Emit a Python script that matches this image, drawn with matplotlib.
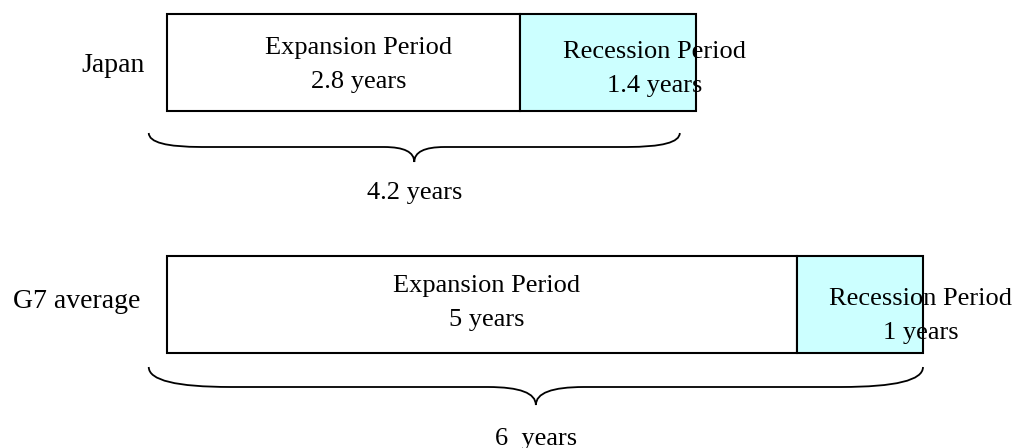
import matplotlib.pyplot as plt
from matplotlib.path import Path
from matplotlib.patches import PathPatch

# data
regions = ['Japan', 'G7 average']
expansion = [2.8, 5]
recession = [1.4, 1]
exp_labels = ['Expansion Period\n2.8 years', 'Expansion Period\n5 years']
rec_labels = ['Recession Period\n1.4 years', 'Recession Period\n1 years']
total_labels = ['4.2 years', '6  years']

plt.rcParams['font.family'] = ['Liberation Serif', 'DejaVu Serif']

fig = plt.figure(figsize=(10.15, 4.48), dpi=100)
ax = fig.add_axes([0, 0, 1, 1])
px = 126.0  # pixels per year
ax.set_xlim(-167 / px, (1015 - 167) / px)
ax.set_ylim(448, 0)
ax.axis('off')

# layout (pixels from top / years)
bar_top = [14, 256]
bar_h = 97
label_x = [145, 140]
label_base = [72, 308]
exp_dx = [0.12, 0.04]
exp_base = [54, 292]
rec_dx = [0.37, 0.48]
rec_base = [58, 305]
line_gap = 34
brace_top = [133, 367]
brace_mid = [14, 20]
brace_tip = [29, 38]
brace_trim = [0.13, 0.0]
brace_q = [(0.42, 0.24), (0.65, 0.38)]
total_base = [199, 445]
fs = 19


def brace(x0, x1, ytop, hm, ht, q_end, q_mid):
    xm = (x0 + x1) / 2
    ym = ytop + hm
    verts = [(x0, ytop), (x0, ym), (x0 + q_end, ym),
             (xm - q_mid, ym), (xm, ym), (xm, ytop + ht),
             (xm, ym), (xm + q_mid, ym),
             (x1 - q_end, ym), (x1, ym), (x1, ytop)]
    codes = [Path.MOVETO, Path.CURVE3, Path.CURVE3,
             Path.LINETO, Path.CURVE3, Path.CURVE3,
             Path.CURVE3, Path.CURVE3,
             Path.LINETO, Path.CURVE3, Path.CURVE3]
    ax.add_patch(PathPatch(Path(verts, codes), fc='none', ec='black', lw=1.3))
    return xm


def two_lines(x, y0, s):
    for k, line in enumerate(s.split('\n')):
        ax.text(x, y0 + k * line_gap, line, ha='center', va='baseline', fontsize=fs)


for i, name in enumerate(regions):
    y = bar_top[i] + bar_h / 2
    ax.barh(y, expansion[i], height=bar_h, left=0, color='white',
            edgecolor='black', linewidth=1.5)
    ax.barh(y, recession[i], height=bar_h, left=expansion[i], color='#CCFFFF',
            edgecolor='black', linewidth=1.5)
    ax.text((label_x[i] - 167) / px, label_base[i], name, ha='right', va='baseline',
            fontsize=20)
    two_lines(expansion[i] / 2 + exp_dx[i], exp_base[i], exp_labels[i])
    two_lines(expansion[i] + recession[i] / 2 + rec_dx[i], rec_base[i], rec_labels[i])
    total = expansion[i] + recession[i]
    xm = brace(-0.145, total - brace_trim[i], brace_top[i], brace_mid[i],
               brace_tip[i], *brace_q[i])
    ax.text(xm, total_base[i], total_labels[i], ha='center', va='baseline', fontsize=fs)

fig.savefig('out.png', dpi=100)
